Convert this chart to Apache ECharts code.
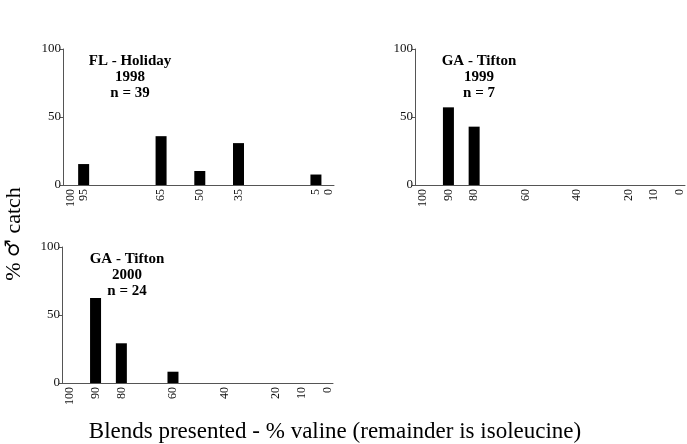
<!DOCTYPE html>
<html>
<head>
<meta charset="utf-8">
<script src="https://cdn.jsdelivr.net/npm/echarts@6/dist/echarts.min.js"></script>
<style>html,body{margin:0;padding:0;background:#fff;}#c{width:687px;height:444px;}</style>
</head>
<body>
<div id="c"></div>
<script>
// Panel 1: FL - Holiday 1998 (n = 39)
const blends1 = [95, 65, 50, 35, 5];
const catch1 = [15.4, 35.9, 10.3, 30.8, 7.7];
const ticks1 = [100, 95, 65, 50, 35, 5, 0];
// Panel 2: GA - Tifton 1999 (n = 7)
const blends2 = [90, 80];
const catch2 = [57.1, 42.9];
const ticks2 = [100, 90, 80, 60, 40, 20, 10, 0];
// Panel 3: GA - Tifton 2000 (n = 24)
const blends3 = [90, 80, 60];
const catch3 = [62.5, 29.2, 8.3];
const ticks3 = [100, 90, 80, 60, 40, 20, 10, 0];
const titles = ['FL - Holiday\n1998\nn = 39', 'GA - Tifton\n1999\nn = 7', 'GA - Tifton\n2000\nn = 24'];
const xTitle = 'Blends presented - % valine (remainder is isoleucine)';

const serif = '"Liberation Serif", "Times New Roman", "DejaVu Serif", serif';
const axisColor = '#555';
const grids = [
  {left: 63, top: 49, width: 271, height: 136},
  {left: 415, top: 49, width: 270, height: 136},
  {left: 62, top: 247, width: 271, height: 136}
];
const tickSets = [ticks1, ticks2, ticks3];
const dataSets = [[blends1, catch1], [blends2, catch2], [blends3, catch3]];

const xAxes = tickSets.map((t, i) => ({
  type: 'value', gridIndex: i, min: -2, max: 103, inverse: true, position: 'bottom',
  splitLine: {show: false},
  axisLine: {show: true, onZero: false, lineStyle: {color: axisColor, width: 1}},
  axisTick: {show: false},
  axisLabel: {customValues: t, rotate: 90, margin: 4, fontFamily: serif, fontSize: 12, color: '#111'}
}));
const yAxes = grids.map((g, i) => ({
  type: 'value', gridIndex: i, min: 0, max: 100, interval: 50, position: 'left',
  splitLine: {show: false},
  axisLine: {show: true, onZero: false, lineStyle: {color: axisColor, width: 1}},
  axisTick: {show: true, length: 3, lineStyle: {color: axisColor}},
  axisLabel: {margin: 2, fontFamily: serif, fontSize: 13, color: '#111'}
}));
const series = dataSets.map((d, i) => ({
  type: 'bar', xAxisIndex: i, yAxisIndex: i, barWidth: 11,
  itemStyle: {color: '#000'},
  data: d[0].map((x, k) => [x, d[1][k]])
}));
const titlePos = [[130, 53], [479, 53], [127, 251]];
const graphic = titles.map((t, i) => ({
  type: 'text', x: titlePos[i][0], y: titlePos[i][1],
  style: {text: t, textAlign: 'center', textVerticalAlign: 'top', lineHeight: 16,
    font: 'bold 15px ' + serif, fill: '#000'}
}));
graphic.push({
  type: 'text', x: 335, y: 432,
  style: {text: xTitle, textAlign: 'center', textVerticalAlign: 'middle', font: '23px ' + serif, fill: '#000'}
});
graphic.push({
  type: 'text', x: 14, y: 234, rotation: Math.PI / 2,
  style: {
    text: '{a|% }{b|\u2642}{a| catch}', textAlign: 'center', textVerticalAlign: 'middle',
    rich: {
      a: {fontFamily: serif, fontSize: 22, fill: '#000'},
      b: {fontFamily: '"DejaVu Sans", sans-serif', fontSize: 20, fill: '#000'}
    }
  }
});

const chart = echarts.init(document.getElementById('c'), null, {renderer: 'canvas'});
chart.setOption({
  animation: false,
  backgroundColor: '#fff',
  grid: grids,
  xAxis: xAxes,
  yAxis: yAxes,
  series: series,
  graphic: graphic
});
</script>
</body>
</html>
